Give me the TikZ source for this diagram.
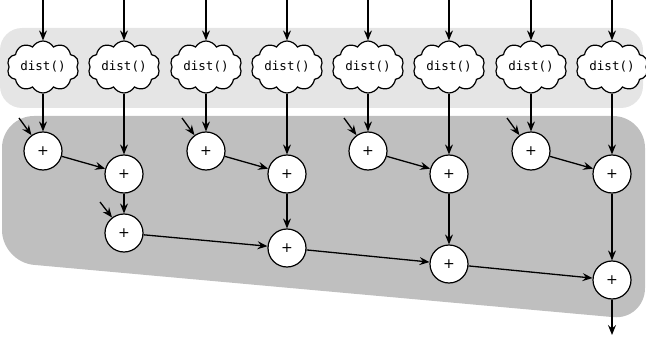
\documentclass[tikz,border=0pt]{standalone}
\usepackage{fontspec}
\setmainfont{DejaVu Sans}
\setmonofont{DejaVu Sans Mono}
\usetikzlibrary{shapes.symbols,arrows.meta}
\tikzset{
  distbox/.style={cloud, cloud puffs=10, cloud puff arc=120, cloud ignores aspect,
    draw, line width=1.2pt, fill=white, minimum width=72pt, minimum height=52pt,
    inner sep=1pt, font=\ttfamily\fontsize{12.5}{14}\selectfont},
  addnode/.style={circle, draw, line width=1.2pt, fill=white, minimum size=38pt,
    inner sep=0pt, font=\fontsize{14}{16}\selectfont},
  flow/.style={line width=1.3pt, -{Stealth[length=10pt,width=8pt,inset=3.5pt]}},
}
\begin{document}
\begin{tikzpicture}[x=1pt,y=-1pt]
\useasboundingbox (0,0) rectangle (646,337);
% shaded stages
\fill[black!10, rounded corners=22pt] (0,28) rectangle (643,108);
\fill[black!25, rounded corners=32pt] (2,116) -- (645,116) -- (645,320) -- (2,262) -- cycle;

% distance stage
\foreach \i/\x in {1/43,2/124,3/206,4/287,5/368,6/449,7/531,8/612}{
  \node[distbox] (d\i) at (\x,67) {dist()};
  \coordinate (in\i) at (\x,0);
  \draw[flow] (in\i) -- (d\i);
}

% first adder row
\node[addnode] (a1) at (43,151) {+};
\node[addnode] (a3) at (206,151) {+};
\node[addnode] (a5) at (368,151) {+};
\node[addnode] (a7) at (531,151) {+};
\node[addnode] (a2) at (124,174) {+};
\node[addnode] (a4) at (287,174) {+};
\node[addnode] (a6) at (449,174) {+};
\node[addnode] (a8) at (612,174) {+};

% accumulation chain
\node[addnode] (s2) at (124,233) {+};
\node[addnode] (s4) at (287,248) {+};
\node[addnode] (s6) at (449,264) {+};
\node[addnode] (s8) at (612,280) {+};

% side inputs
\coordinate (c1) at (19,118);
\coordinate (c3) at (182,118);
\coordinate (c5) at (344,118);
\coordinate (c7) at (507,118);
\coordinate (c2) at (100,202);
\coordinate (out) at (612,335);

\foreach \i in {1,...,8}{ \draw[flow] (d\i) -- (a\i); }
\foreach \i in {1,3,5,7}{ \draw[flow] (c\i) -- (a\i); }
\draw[flow] (c2) -- (s2);
\draw[flow] (a1) -- (a2);
\draw[flow] (a3) -- (a4);
\draw[flow] (a5) -- (a6);
\draw[flow] (a7) -- (a8);
\draw[flow] (a2) -- (s2);
\draw[flow] (a4) -- (s4);
\draw[flow] (a6) -- (s6);
\draw[flow] (a8) -- (s8);
\draw[flow] (s2) -- (s4);
\draw[flow] (s4) -- (s6);
\draw[flow] (s6) -- (s8);
\draw[flow] (s8) -- (out);
\end{tikzpicture}
\end{document}
